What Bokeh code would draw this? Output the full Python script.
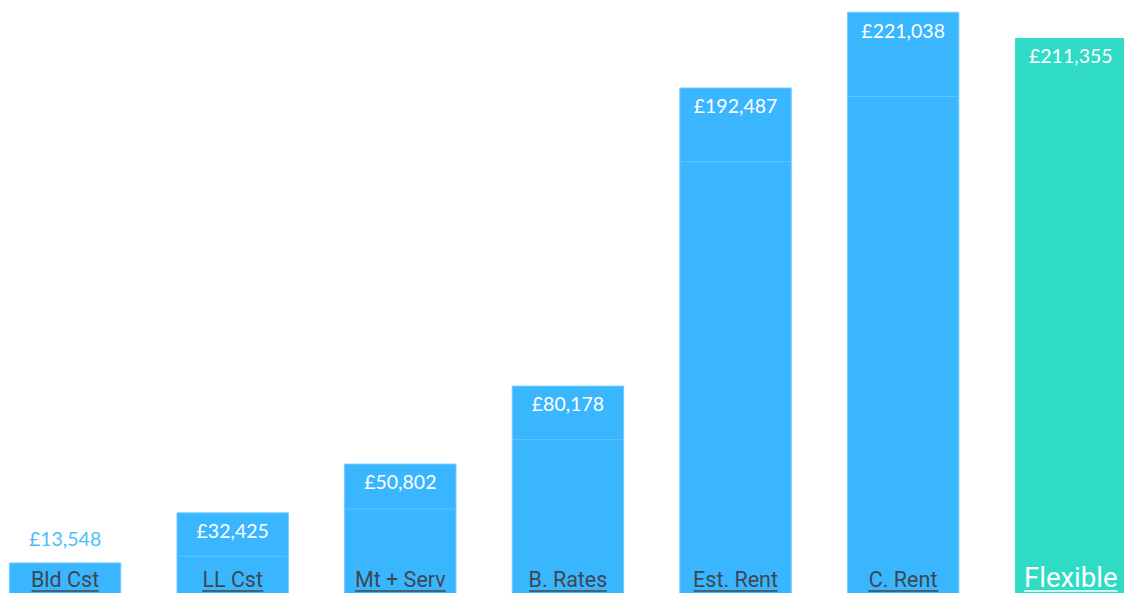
from bokeh.plotting import figure
from bokeh.models import Range1d, ColumnDataSource
from bokeh.core.properties import value
from bokeh.embed import file_html
from bokeh.resources import INLINE

# ---- data ----
categories = ["Bld Cst", "LL Cst", "Mt + Serv", "B. Rates", "Est. Rent", "C. Rent", "Flexible"]
totals = [13548, 32425, 50802, 80178, 192487, 221038, 211355]
splits = [None, 16059, 33903, 60037, 164758, 189294, None]
value_labels = ["£13,548", "£32,425", "£50,802", "£80,178", "£192,487", "£221,038", "£211,355"]

# ---- style ----
BLUE = "#3ab6ff"
GREEN = "#2fdbc5"
SPLIT = "#5fc4ff"
EDGE = "#72cbff"
CAT_GRAY = "#3d4852"
OUT_BLUE = "#4fbdfb"
FONT_VAL = "Lato"
FONT_CAT = "Roboto"

W, H = 1124, 593
REF_W, REF_H = 1140.0, 601.0
sx_scale = W / REF_W
sy_scale = H / REF_H
PX_PER_CAT = 170.0          # reference px per category
PX_PER_VAL = 0.00269        # reference px per unit of value
BASE_REF = 606.5            # reference y of zero
FIRST_CENTER = 65.5         # reference x of first bar centre

x_start = (0 - FIRST_CENTER) / PX_PER_CAT
x_end = (REF_W - FIRST_CENTER) / PX_PER_CAT
y_start = (BASE_REF - REF_H) / PX_PER_VAL
y_end = BASE_REF / PX_PER_VAL
BAR_W = 113 / PX_PER_CAT

idx = list(range(len(categories)))
colors = [GREEN if c == "Flexible" else BLUE for c in categories]
edges = [None if c == "Flexible" else EDGE for c in categories]

p = figure(width=W, height=H, x_range=Range1d(x_start, x_end), y_range=Range1d(y_start, y_end),
           output_backend="svg", toolbar_location=None, min_border=0)
p.axis.visible = False
p.grid.visible = False
p.outline_line_color = None
p.background_fill_color = "white"
p.border_fill_color = "white"

p.vbar(x=idx, top=totals, bottom=0, width=BAR_W, fill_color=colors, line_color=edges, line_width=1)

# segment separators
seg_x, seg_y = [], []
for i, s in zip(idx, splits):
    if s is not None:
        seg_x.append(i)
        seg_y.append(s)
p.segment(x0=[x - BAR_W / 2 + 0.006 for x in seg_x], x1=[x + BAR_W / 2 - 0.006 for x in seg_x],
          y0=seg_y, y1=seg_y, line_color=SPLIT, line_width=1)

# value labels
inside = [(t - y_start) * PX_PER_VAL > 50 for t in totals]
lab_src = ColumnDataSource(dict(
    x=idx, y=totals, text=value_labels,
    color=["white" if ins else OUT_BLUE for ins in inside],
    off=[18 * sy_scale if ins else -25 * sy_scale for ins in inside],
))
p.text(x="x", y="y", text="text", source=lab_src, text_color="color", y_offset="off",
       text_align="center", text_baseline="middle",
       text_font=value(FONT_VAL), text_font_size=value("19.5px"))

# category labels (underlined)
cat_src = ColumnDataSource(dict(
    x=idx, y=[y_start] * len(idx), text=categories,
    color=["white" if c == "Flexible" else CAT_GRAY for c in categories],
    size=["27.5px" if c == "Flexible" else "21.5px" for c in categories],
    off=[-16.5 * sy_scale if c == "Flexible" else -14 * sy_scale for c in categories],
))
p.text(x="x", y="y", text="text", source=cat_src, text_color="color", y_offset="off",
       text_align="center", text_baseline="middle",
       text_font=value(FONT_CAT), text_font_size="size")

underline_px = [68, 62, 92, 79, 85, 71, 95]
ul_y = y_start + 2.5 / PX_PER_VAL
p.segment(x0=[i - w / 2 / PX_PER_CAT for i, w in zip(idx, underline_px)],
          x1=[i + w / 2 / PX_PER_CAT for i, w in zip(idx, underline_px)],
          y0=[ul_y] * len(idx), y1=[ul_y] * len(idx),
          line_color=["white" if c == "Flexible" else CAT_GRAY for c in categories],
          line_width=1.5)

open("out.html", "w").write(file_html(p, INLINE))
